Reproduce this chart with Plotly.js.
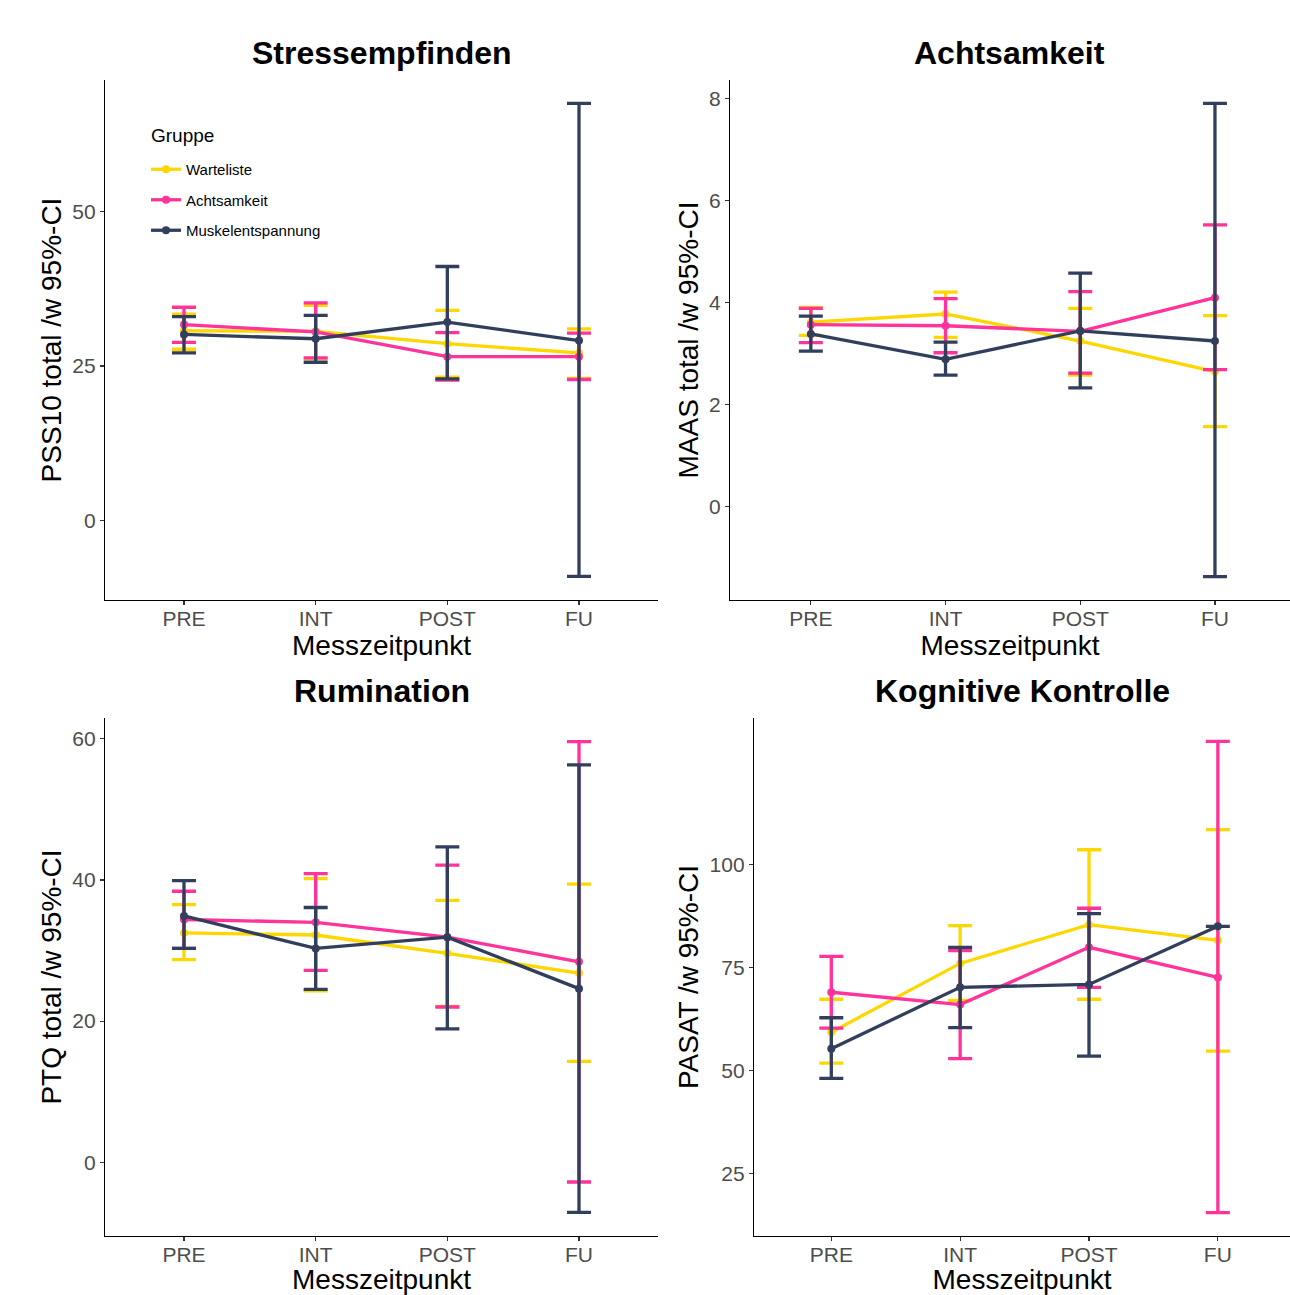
<!DOCTYPE html>
<html>
<head>
<meta charset="utf-8">
<script src="https://cdn.plot.ly/plotly-3.0.1.min.js"></script>
<style>html,body{margin:0;padding:0;background:#fff;}#chart{width:1290px;height:1295px;}</style>
</head>
<body>
<div id="chart"></div>
<script>
const timepoints = ["PRE", "INT", "POST", "FU"];
const groups = ["Warteliste", "Achtsamkeit", "Muskelentspannung"];
const colors = ["#FFD700", "#FF3399", "#323F5C"];

// Stressempfinden (PSS10)
const pssMean  = [[30.7, 30.6, 28.6, 27.1], [31.7, 30.5, 26.5, 26.5], [30.1, 29.4, 32.1, 29.1]];
const pssLower = [[27.7, 26.2, 23.2, 23.0], [28.8, 26.3, 22.7, 22.8], [27.1, 25.6, 22.9, -9.06]];
const pssUpper = [[33.4, 34.8, 34.0, 31.0], [34.5, 35.2, 30.4, 30.3], [33.0, 33.2, 41.1, 67.5]];

// Achtsamkeit (MAAS)
const maasMean  = [[3.61, 3.77, 3.24, 2.64], [3.56, 3.54, 3.43, 4.09], [3.38, 2.88, 3.44, 3.24]];
const maasLower = [[3.35, 3.31, 2.57, 1.56], [3.21, 3.01, 2.61, 2.68], [3.04, 2.57, 2.32, -1.38]];
const maasUpper = [[3.90, 4.20, 3.88, 3.74], [3.88, 4.07, 4.21, 5.52], [3.73, 3.22, 4.57, 7.90]];

// Rumination (PTQ)
const ptqMean  = [[32.5, 32.2, 29.6, 26.8], [34.4, 34.0, 31.9, 28.4], [34.9, 30.3, 31.9, 24.6]];
const ptqLower = [[28.7, 24.3, 22.1, 14.3], [30.3, 27.2, 22.0, -2.8], [30.3, 24.5, 18.9, -7.1]];
const ptqUpper = [[36.5, 40.2, 37.1, 39.4], [38.4, 40.9, 42.1, 59.6], [39.9, 36.1, 44.7, 56.3]];

// Kognitive Kontrolle (PASAT)
const pasatMean  = [[59.3, 76.0, 85.4, 81.6], [69.0, 66.0, 79.9, 72.6], [55.3, 70.2, 70.9, 85.0]];
const pasatLower = [[51.8, 67.0, 67.3, 54.7], [60.3, 52.9, 70.2, 15.5], [48.1, 60.4, 53.5, null]];
const pasatUpper = [[67.3, 85.2, 103.6, 108.5], [77.7, 79.1, 89.4, 129.9], [62.8, 79.9, 88.1, null]];

const panelTitles = ["Stressempfinden", "Achtsamkeit", "Rumination", "Kognitive Kontrolle"];
const yTitles = ["PSS10 total /w 95%-CI", "MAAS total /w 95%-CI", "PTQ total /w 95%-CI", "PASAT /w 95%-CI"];
const yTicks = [[0, 25, 50], [0, 2, 4, 6, 8], [0, 20, 40, 60], [25, 50, 75, 100]];
const xLabel = "Messzeitpunkt";
const legendTitle = "Gruppe";

const W = 1290, H = 1295;
const FONT = "Liberation Sans, Arial, Helvetica, sans-serif";

const panels = [
  {mean: pssMean, lower: pssLower, upper: pssUpper, px: [105, 658], py: [80, 600], xr: [-0.6, 3.6], yr: [-12.9, 71.3]},
  {mean: maasMean, lower: maasLower, upper: maasUpper, px: [730, 1290], py: [80, 600], xr: [-0.6, 3.557], yr: [-1.84, 8.36]},
  {mean: ptqMean, lower: ptqLower, upper: ptqUpper, px: [105, 658], py: [718, 1236], xr: [-0.6, 3.6], yr: [-10.45, 62.95]},
  {mean: pasatMean, lower: pasatLower, upper: pasatUpper, px: [754, 1290], py: [718, 1236], xr: [-0.6, 3.56], yr: [9.8, 135.6]}
];

const traces = [];
const layout = {
  width: W, height: H,
  margin: {l: 0, r: 0, t: 0, b: 0},
  paper_bgcolor: "#ffffff", plot_bgcolor: "#ffffff",
  font: {family: FONT, color: "#000000"},
  showlegend: true,
  legend: {
    x: 146 / W, y: 1 - 153 / H, xanchor: "left", yanchor: "top",
    bgcolor: "rgba(0,0,0,0)",
    font: {size: 15, color: "#000000", family: FONT},
    tracegroupgap: 8,
    itemwidth: 30
  },
  annotations: [{
    text: legendTitle, xref: "paper", yref: "paper",
    x: 149 / W, y: 1 - 135 / H, xanchor: "left", yanchor: "middle",
    showarrow: false, font: {size: 19, color: "#000000", family: FONT}
  }],
  hovermode: false
};

panels.forEach((p, i) => {
  const xa = i === 0 ? "x" : "x" + (i + 1);
  const ya = i === 0 ? "y" : "y" + (i + 1);
  const xKey = i === 0 ? "xaxis" : "xaxis" + (i + 1);
  const yKey = i === 0 ? "yaxis" : "yaxis" + (i + 1);
  groups.forEach((g, k) => {
    const m = p.mean[k];
    const up = m.map((v, j) => p.upper[k][j] === null ? null : p.upper[k][j] - v);
    const lo = m.map((v, j) => p.lower[k][j] === null ? null : v - p.lower[k][j]);
    traces.push({
      type: "scatter", mode: "lines+markers",
      x: timepoints, y: m, xaxis: xa, yaxis: ya,
      name: g, legendgroup: g, showlegend: i === 0,
      line: {color: colors[k], width: 3.3},
      marker: {color: colors[k], size: 8},
      error_y: {type: "data", symmetric: false, array: up, arrayminus: lo,
                color: colors[k], thickness: 3.3, width: 12, visible: true},
      cliponaxis: false
    });
  });
  layout[xKey] = {
    domain: [p.px[0] / W, p.px[1] / W],
    anchor: ya,
    type: "category",
    categoryorder: "array", categoryarray: timepoints,
    range: p.xr,
    showline: true, linecolor: "#000000", linewidth: 1.2,
    ticks: "outside", ticklen: 4, tickwidth: 1.2, tickcolor: "#333333",
    ticklabelstandoff: -4,
    tickfont: {size: 21, color: "#4D4D4D", family: FONT},
    showgrid: false, zeroline: false,
    title: {text: xLabel, font: {size: 28, color: "#000000", family: FONT}, standoff: 0},
    fixedrange: true
  };
  layout[yKey] = {
    domain: [1 - p.py[1] / H, 1 - p.py[0] / H],
    anchor: xa,
    range: p.yr,
    tickmode: "array", tickvals: yTicks[i],
    showline: true, linecolor: "#000000", linewidth: 1.2,
    ticks: "outside", ticklen: 4, tickwidth: 1.2, tickcolor: "#333333",
    tickfont: {size: 21, color: "#4D4D4D", family: FONT},
    showgrid: false, zeroline: false,
    title: {text: yTitles[i], font: {size: 28, color: "#000000", family: FONT}, standoff: 2},
    fixedrange: true
  };
  layout.annotations.push({
    text: "<b>" + panelTitles[i] + "</b>",
    xref: "paper", yref: "paper",
    x: (p.px[0] + p.px[1]) / 2 / W,
    y: 1 - (p.py[0] - 27) / H,
    xanchor: "center", yanchor: "middle",
    showarrow: false,
    font: {size: 32, color: "#000000", family: FONT}
  });
});

Plotly.newPlot("chart", traces, layout, {staticPlot: true, displayModeBar: false});
</script>
</body>
</html>
